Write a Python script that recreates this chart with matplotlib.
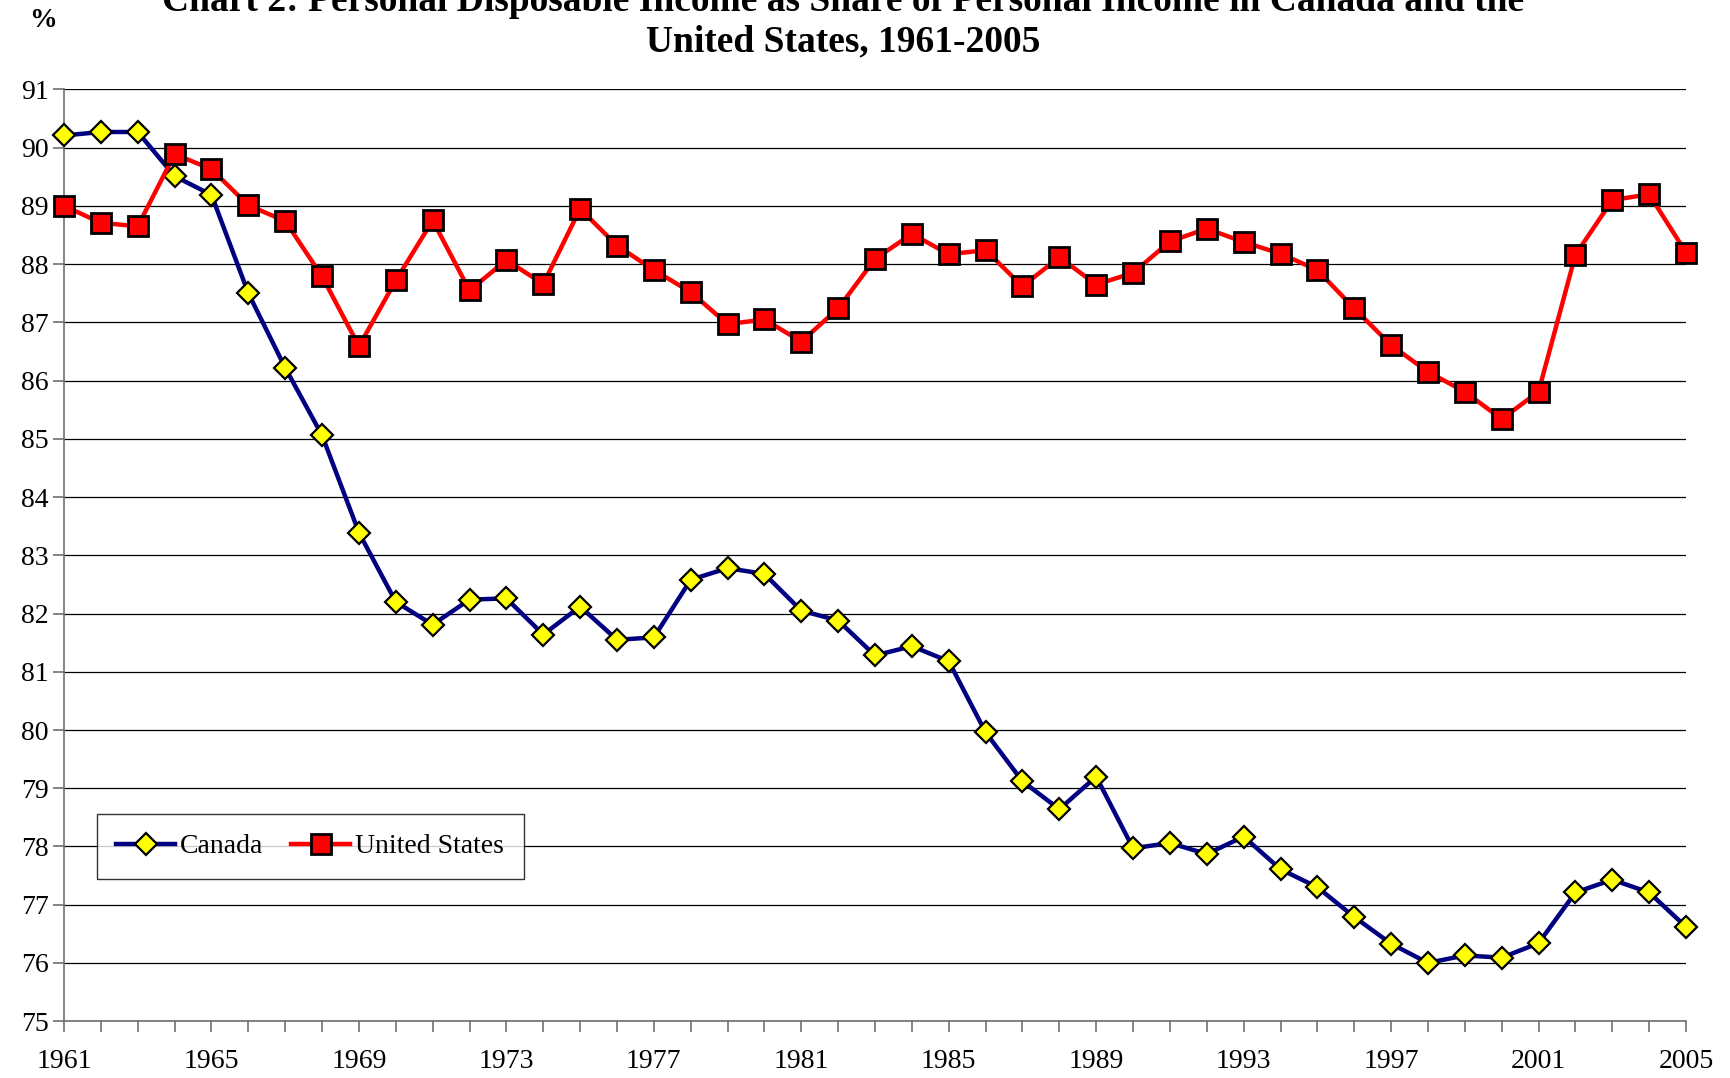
import matplotlib.pyplot as plt
from matplotlib.ticker import MultipleLocator, FixedLocator

years = list(range(1961, 2006))

canada = [90.21, 90.27, 90.27, 89.51, 89.19, 87.50, 86.22, 85.06, 83.39, 82.20,
          81.81, 82.24, 82.26, 81.64, 82.12, 81.55, 81.59, 82.58, 82.78, 82.68,
          82.05, 81.88, 81.28, 81.44, 81.18, 79.96, 79.12, 78.64, 79.20, 77.97,
          78.06, 77.87, 78.17, 77.61, 77.30, 76.79, 76.33, 76.00, 76.13, 76.09,
          76.34, 77.21, 77.43, 77.21, 76.62]

united_states = [89.00, 88.71, 88.65, 89.89, 89.63, 89.01, 88.74, 87.79, 86.59, 87.72,
                 88.75, 87.55, 88.07, 87.66, 88.95, 88.32, 87.90, 87.52, 86.97, 87.05,
                 86.67, 87.24, 88.09, 88.52, 88.17, 88.24, 87.62, 88.12, 87.65, 87.85,
                 88.39, 88.61, 88.38, 88.18, 87.90, 87.24, 86.61, 86.15, 85.81, 85.34,
                 85.81, 88.16, 89.10, 89.20, 88.20]

x_labels = list(range(1961, 2006, 4))
y_ticks = list(range(75, 92))

plt.rcParams["font.family"] = ["Liberation Serif", "DejaVu Serif"]

fig = plt.figure(figsize=(17.31, 10.78), dpi=100)
ax = fig.add_axes([0.037, 0.0527, 0.937, 0.8643])

ax.plot(years, canada, color="#000080", lw=3.2, marker="D", ms=11,
        mfc="#FFFF00", mec="black", mew=1.6, label="Canada", clip_on=False, zorder=3)
ax.plot(years, united_states, color="#FF0000", lw=3.2, marker="s", ms=14,
        mfc="#FF0000", mec="black", mew=2.0, label="United States", clip_on=False, zorder=3)

ax.set_xlim(1961, 2005)
ax.set_ylim(75, 91)
ax.xaxis.set_major_locator(FixedLocator(x_labels))
ax.xaxis.set_minor_locator(MultipleLocator(1))
ax.set_yticks(y_ticks)
ax.yaxis.grid(True, color="black", lw=0.9)
ax.set_axisbelow(True)

for s in ["top", "right"]:
    ax.spines[s].set_visible(False)
for s in ["left", "bottom"]:
    ax.spines[s].set_color("#707070")
    ax.spines[s].set_linewidth(1.2)

ax.tick_params(axis="x", which="both", length=8, color="#707070", width=1.2,
               labelsize=20, pad=12)
ax.tick_params(axis="y", length=8, color="#707070", width=1.2, labelsize=20, pad=3)

leg = ax.legend(loc="upper left", bbox_to_anchor=(0.0203, 0.222), borderaxespad=0,
                ncol=2, fontsize=20, frameon=True, fancybox=False, handlelength=2.1,
                columnspacing=1.0, borderpad=0.7, handletextpad=0.2)
leg.get_frame().set_edgecolor("black")
leg.get_frame().set_linewidth(1.0)

fig.text(0.487, 0.952, "Chart 2: Personal Disposable Income as Share of Personal Income in Canada and the\nUnited States, 1961-2005",
         ha="center", va="baseline", fontsize=27, fontweight="bold", linespacing=1.2)
fig.text(0.025, 0.981, "%", ha="center", va="center", fontsize=20, fontweight="bold")

fig.savefig("out.png", dpi=100)
